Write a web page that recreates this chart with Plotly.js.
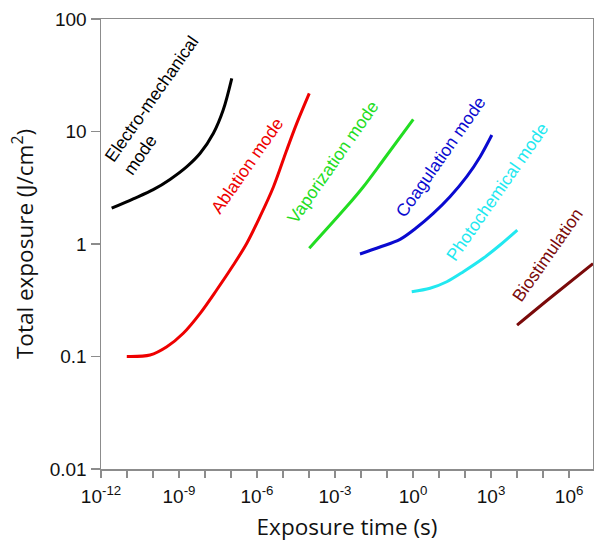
<!DOCTYPE html>
<html>
<head>
<meta charset="utf-8">
<script src="https://cdn.plot.ly/plotly-3.0.1.min.js"></script>
<style>html,body{margin:0;padding:0;background:#fff;}#chart{width:594px;height:545px;}</style>
</head>
<body>
<div id="chart"></div>
<script>
// Exposure time (s) and total exposure (J/cm^2)
const electroX = [2.57e-12, 1.74e-11, 1.02e-10, 4.5e-10, 2.0e-9, 6.5e-9, 2.1e-8, 5.0e-8, 1.07e-7];
const electroY = [2.08, 2.52, 3.04, 3.75, 4.87, 6.40, 9.64, 15.5, 29.7];

const ablationX = [9.8e-12, 7.7e-11, 3.4e-10, 1.46e-9, 6.5e-9, 2.8e-8, 1.23e-7, 4.0e-7, 1.3e-6, 4.3e-6, 1.39e-5, 3.37e-5, 1.02e-4];
const ablationY = [0.1, 0.103, 0.122, 0.161, 0.242, 0.390, 0.650, 1.01, 1.75, 3.23, 6.85, 11.8, 21.8];

const vaporX = [1.02e-4, 2.8e-3, 1.23e-2, 7.2e-2, 1.02];
const vaporY = [0.916, 2.15, 3.23, 5.58, 12.8];

const coagX = [9.1e-3, 0.0537, 0.316, 1.38, 6.0, 26.3, 116, 380, 1070];
const coagY = [0.815, 0.94, 1.10, 1.40, 1.87, 2.63, 3.97, 5.97, 9.3];

const photoX = [0.89, 4.5, 19.8, 86, 500, 2220, 10200];
const photoY = [0.377, 0.404, 0.462, 0.567, 0.746, 0.98, 1.33];

const bioX = [1.0e4, 1.86e5, 8.3e6];
const bioY = [0.19, 0.331, 0.67];

const xTickVals = [1e-12,1e-11,1e-10,1e-9,1e-8,1e-7,1e-6,1e-5,1e-4,1e-3,1e-2,1e-1,1,1e1,1e2,1e3,1e4,1e5,1e6];
const xTickText = ["10<sup>-12</sup>","","","10<sup>-9</sup>","","","10<sup>-6</sup>","","","10<sup>-3</sup>","","","10<sup>0</sup>","","","10<sup>3</sup>","","","10<sup>6</sup>"];
const yTickVals = [0.01, 0.1, 1, 10, 100];
const yTickText = ["0.01", "0.1", "1", "10", "100"];

const modeLabels = ["Electro-mechanical<br>mode", "Ablation mode", "Vaporization mode", "Coagulation mode", "Photochemical mode", "Biostimulation"];
const modeColors = ["#000000", "#ee0000", "#22dd22", "#0a0ad0", "#22e8f0", "#7a0a0a"];

const series = [[electroX, electroY], [ablationX, ablationY], [vaporX, vaporY], [coagX, coagY], [photoX, photoY], [bioX, bioY]];

const traces = series.map((s, i) => ({
  x: s[0], y: s[1], type: 'scatter', mode: 'lines',
  line: {color: modeColors[i], width: 3, shape: 'spline', smoothing: 0.9},
  hoverinfo: 'skip', showlegend: false
}));

const labelPos = [[2.04e-10, 16.9], [4.0e-7, 4.97], [8.5e-4, 5.31], [11.6, 5.9], [1740, 2.88], [1.48e5, 0.798]];
const annotations = modeLabels.map((t, i) => ({
  x: Math.log10(labelPos[i][0]), y: Math.log10(labelPos[i][1]), xref: 'x', yref: 'y',
  text: t, showarrow: false, textangle: -55, align: 'left',
  xanchor: 'center', yanchor: 'middle',
  font: {family: 'Liberation Sans, Arial, sans-serif', size: 17.5, color: modeColors[i]}
}));

const axisColor = '#8c8c8c';
const layout = {
  width: 594, height: 545,
  margin: {l: 101, r: 1, t: 19, b: 76},
  paper_bgcolor: '#ffffff', plot_bgcolor: '#ffffff',
  showlegend: false,
  xaxis: {
    type: 'log', range: [-12, 6.92], automargin: false,
    tickmode: 'array', tickvals: xTickVals, ticktext: xTickText,
    ticks: 'outside', ticklen: 7, tickwidth: 1.3, tickcolor: axisColor, ticklabelstandoff: 3,
    showline: true, linecolor: axisColor, linewidth: 1.5, mirror: true,
    showgrid: false, zeroline: false,
    tickfont: {family: 'Liberation Sans, Arial, sans-serif', size: 19, color: '#111'},
    title: {text: 'Exposure time (s)', font: {family: 'Open Sans, sans-serif', size: 22.5, color: '#111'}, standoff: 13}
  },
  yaxis: {
    type: 'log', range: [-2, 2], automargin: false,
    tickmode: 'array', tickvals: yTickVals, ticktext: yTickText,
    ticks: 'outside', ticklen: 9, tickwidth: 1.3, tickcolor: axisColor,
    showline: true, linecolor: axisColor, linewidth: 1.5, mirror: true,
    showgrid: false, zeroline: false,
    tickfont: {family: 'Liberation Sans, Arial, sans-serif', size: 19, color: '#111'},
    title: {text: 'Total exposure (J/cm<sup>2</sup>)', font: {family: 'Open Sans, sans-serif', size: 22.5, color: '#111'}, standoff: 10}
  },
  shapes: [{type: 'line', xref: 'paper', x0: 0, x1: 1, yref: 'y', y0: 0, y1: 0,
    line: {color: '#c8c8c8', width: 1, dash: 'dot'}, layer: 'below'}],
  annotations: annotations
};

Plotly.newPlot('chart', traces, layout, {displayModeBar: false, staticPlot: true});
</script>
</body>
</html>
